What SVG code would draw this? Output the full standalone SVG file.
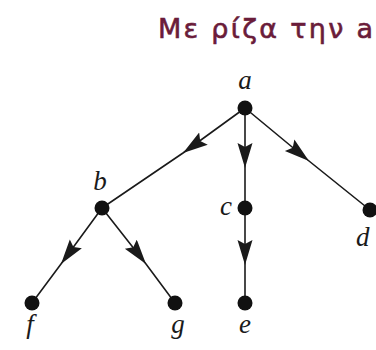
<svg xmlns="http://www.w3.org/2000/svg" width="376" height="350" viewBox="0 0 376 350">
<style>
.title{font-family:"DejaVu Sans",sans-serif;font-size:27px;letter-spacing:2.3px;fill:#6a1c3a;stroke:#6a1c3a;stroke-width:0.6}
.lbl{font-family:"Liberation Serif",serif;font-style:italic;font-size:27px;fill:#1a1a1a}
.edge{stroke:#1a1a1a;stroke-width:1.6;fill:none;marker-mid:url(#arr)}
.node{fill:#111}
</style>
<defs>
<marker id="arr" markerWidth="28" markerHeight="16" refX="25" refY="7.5" orient="auto" markerUnits="userSpaceOnUse">
<path d="M0,0 L25,7.5 L0,15 L4,7.5 Z" fill="#1a1a1a"/>
</marker>
</defs>
<rect width="376" height="350" fill="#fff"/>
<text class="title" x="158" y="38">Με ρίζα την a</text>
<g id="connectors">
<path class="edge" d="M245,108 L183,153 L102,208"/>
<path class="edge" d="M245,108 L245,168 L245,207"/>
<path class="edge" d="M245,108 L309,161 L370,210"/>
<path class="edge" d="M102,208 L61,264 L32,303"/>
<path class="edge" d="M102,208 L146,264 L175,303"/>
<path class="edge" d="M245,207 L245,265 L245,303"/>
</g>
<g id="node-a"><circle class="node" cx="245" cy="108" r="7.5"/><text class="lbl" x="245" y="89" text-anchor="middle">a</text></g>
<g id="node-b"><circle class="node" cx="102" cy="208" r="7.5"/><text class="lbl" x="100" y="190" text-anchor="middle">b</text></g>
<g id="node-c"><circle class="node" cx="245" cy="208" r="7.5"/><text class="lbl" x="232" y="215" text-anchor="end">c</text></g>
<g id="node-d"><circle class="node" cx="370" cy="210" r="7.5"/><text class="lbl" x="356" y="246">d</text></g>
<g id="node-e"><circle class="node" cx="245" cy="303" r="7.5"/><text class="lbl" x="245" y="333" text-anchor="middle">e</text></g>
<g id="node-f"><circle class="node" cx="32" cy="303" r="7.5"/><text class="lbl" x="30" y="333" text-anchor="middle">f</text></g>
<g id="node-g"><circle class="node" cx="175" cy="303" r="7.5"/><text class="lbl" x="178" y="333" text-anchor="middle">g</text></g>
</svg>
